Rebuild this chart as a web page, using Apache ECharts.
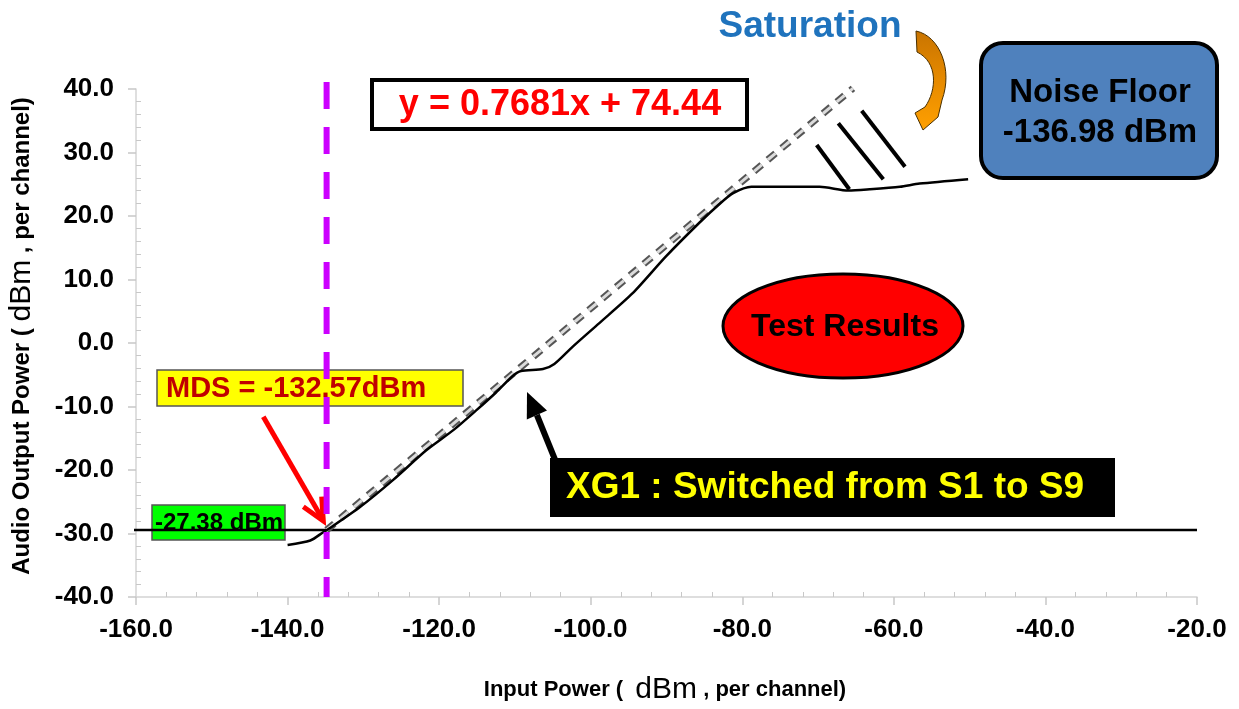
<!DOCTYPE html>
<html>
<head>
<meta charset="utf-8">
<script src="https://cdn.jsdelivr.net/npm/echarts@6/dist/echarts.min.js"></script>
<style>
  html, body { margin: 0; padding: 0; background: #fff; }
  #chart { width: 1239px; height: 709px; }
</style>
</head>
<body>
<div id="chart"></div>
<script>
// measured response (input dBm -> audio output dBm)
const inputPower = [-140.0, -137.0, -135.3, -134.6, -130.4, -126.1, -121.7, -118.0, -115.0, -112.5, -110.3, -109.2,
  -106.3, -104.8, -102.4, -98.9, -94.5, -90.1, -85.7, -83.0, -81.2, -78.8, -69.8, -66.0, -63.2, -59.2, -56.6, -50.2]
const outputPower = [-31.8, -31.1, -29.8, -29.3, -25.8, -21.6, -16.9, -13.6, -10.5, -7.8, -5.2, -4.4,
  -4.1, -3.3, -0.6, 3.1, 7.8, 13.6, 18.9, 21.9, 23.6, 24.6, 24.6, 24.0, 24.2, 24.6, 25.1, 25.8]

// linear fit drawn as a dashed line (end points)
const fitX = [-134.85, -65.4]
const fitY = [-29.45, 40.1]

// reference level and MDS marker
const floorX = [-161, -20]
const floorLevel = -29.45
const mdsX = -134.85
const mdsY = [41.1, -40]

const fmt1 = v => v.toFixed(1)
const zip = (xs, ys) => xs.map((x, i) => [x, ys[i]])

// sample a cubic bezier into points (for the curved arrow outline)
function bez (p0, p1, p2, p3, n) {
  const pts = []
  for (let i = 0; i <= n; i++) {
    const t = i / n
    const u = 1 - t
    pts.push([
      u * u * u * p0[0] + 3 * u * u * t * p1[0] + 3 * u * t * t * p2[0] + t * t * t * p3[0],
      u * u * u * p0[1] + 3 * u * u * t * p1[1] + 3 * u * t * t * p2[1] + t * t * t * p3[1]
    ])
  }
  return pts
}
const arrowPts = [].concat(
  bez([916, 31], [940, 36], [953, 70], [942, 100], 16),
  [[938, 117], [923, 130], [915, 113], [925, 107]],
  bez([925, 107], [937, 90], [938, 62], [917, 52], 16)
)

const chart = echarts.init(document.getElementById('chart'))

const fitData = zip(fitX, fitY)
const font = 'Liberation Sans, Arial'

const axisCommon = {
  type: 'value',
  axisLine: { show: true, onZero: false, lineStyle: { color: '#d4d4d4', width: 1.5 } },
  axisTick: { show: true, length: 8, lineStyle: { color: '#c8c8c8', width: 1.5 } },
  minorTick: { show: true, splitNumber: 5, length: -5, lineStyle: { color: '#c8c8c8', width: 1 } },
  splitLine: { show: false },
  minorSplitLine: { show: false }
}

chart.setOption({
  backgroundColor: '#fff',
  animation: false,
  grid: { left: 136, right: 42, top: 89, bottom: 112 },
  xAxis: Object.assign({}, axisCommon, {
    min: -160,
    max: -20,
    interval: 20,
    axisLabel: {
      margin: 20,
      formatter: fmt1,
      color: '#000',
      fontFamily: font,
      fontWeight: 'bold',
      fontSize: 26
    }
  }),
  yAxis: Object.assign({}, axisCommon, {
    min: -40,
    max: 40,
    interval: 10,
    axisLabel: {
      margin: 22,
      formatter: fmt1,
      color: '#000',
      fontFamily: font,
      fontWeight: 'bold',
      fontSize: 26
    }
  }),
  series: [
    {
      type: 'line',
      data: zip(floorX, floorX.map(() => floorLevel)),
      symbol: 'none',
      clip: false,
      lineStyle: { color: '#000', width: 2.5 },
      z: 2
    },
    {
      type: 'line',
      data: fitData,
      symbol: 'none',
      clip: false,
      lineStyle: { color: '#555', width: 7, type: [10, 8] },
      z: 3
    },
    {
      type: 'line',
      data: fitData,
      symbol: 'none',
      clip: false,
      lineStyle: { color: '#dcdcdc', width: 3, type: [10, 8] },
      z: 4
    },
    {
      type: 'line',
      data: zip(inputPower, outputPower),
      symbol: 'none',
      smooth: 0.25,
      lineStyle: { color: '#000', width: 2.5 },
      z: 5
    },
    {
      type: 'line',
      data: mdsY.map(y => [mdsX, y]),
      symbol: 'none',
      clip: false,
      lineStyle: { color: '#CC00FF', width: 6, type: [27, 18] },
      z: 6
    }
  ],
  graphic: [
    // axis titles
    {
      type: 'text',
      x: 665,
      y: 690,
      style: {
        text: '{a|Input Power (  }{b|dBm}{a| , per channel)}',
        align: 'center',
        verticalAlign: 'middle',
        rich: {
          a: { fontFamily: font, fontWeight: 'bold', fontSize: 22, fill: '#000' },
          b: { fontFamily: font, fontSize: 30, fill: '#000' }
        }
      }
    },
    {
      type: 'text',
      x: 22,
      y: 336,
      rotation: Math.PI / 2,
      style: {
        text: '{a|Audio Output Power ( }{b|dBm}{a| , per channel)}',
        align: 'center',
        verticalAlign: 'middle',
        rich: {
          a: { fontFamily: font, fontWeight: 'bold', fontSize: 24, fill: '#000' },
          b: { fontFamily: font, fontSize: 30, fill: '#000' }
        }
      }
    },
    // Saturation label and curved arrow
    {
      type: 'text',
      x: 810,
      y: 27,
      style: {
        text: 'Saturation',
        align: 'center',
        verticalAlign: 'middle',
        font: 'bold 37px ' + font,
        fill: '#1F73BD'
      }
    },
    {
      type: 'polygon',
      shape: { points: arrowPts },
      style: {
        fill: new echarts.graphic.LinearGradient(0, 0, 0, 1, [
          { offset: 0, color: '#C97400' },
          { offset: 0.5, color: '#E68A00' },
          { offset: 1, color: '#FFA000' }
        ]),
        stroke: '#4a3000',
        lineWidth: 1
      }
    },
    // saturation hatch lines
    { type: 'line', shape: { x1: 816.7, y1: 145, x2: 849.3, y2: 189.3 }, style: { stroke: '#000', lineWidth: 4 } },
    { type: 'line', shape: { x1: 838.3, y1: 123.3, x2: 883.3, y2: 179.3 }, style: { stroke: '#000', lineWidth: 4 } },
    { type: 'line', shape: { x1: 861.7, y1: 110.7, x2: 905, y2: 166.7 }, style: { stroke: '#000', lineWidth: 4 } },
    // equation box
    {
      type: 'rect',
      shape: { x: 372, y: 80, width: 375, height: 49 },
      style: { fill: '#fff', stroke: '#000', lineWidth: 4 }
    },
    {
      type: 'text',
      x: 560,
      y: 105,
      style: {
        text: 'y = 0.7681x + 74.44',
        align: 'center',
        verticalAlign: 'middle',
        font: 'bold 36px ' + font,
        fill: '#FF0000'
      }
    },
    // noise floor box
    {
      type: 'rect',
      shape: { x: 981, y: 43, width: 236, height: 135, r: 22 },
      style: { fill: '#4F81BD', stroke: '#000', lineWidth: 4 }
    },
    {
      type: 'text',
      x: 1100,
      y: 113,
      style: {
        text: 'Noise Floor\n-136.98 dBm',
        align: 'center',
        verticalAlign: 'middle',
        lineHeight: 40,
        font: 'bold 33px ' + font,
        fill: '#000'
      }
    },
    // test results ellipse
    {
      type: 'ellipse',
      shape: { cx: 843, cy: 326, rx: 120, ry: 52 },
      style: { fill: '#FF0000', stroke: '#000', lineWidth: 3 }
    },
    {
      type: 'text',
      x: 845,
      y: 327,
      style: {
        text: 'Test Results',
        align: 'center',
        verticalAlign: 'middle',
        font: 'bold 32px ' + font,
        fill: '#000'
      }
    },
    // MDS label + red arrow
    {
      type: 'rect',
      shape: { x: 157, y: 370, width: 306, height: 36 },
      style: { fill: '#FFFF00', stroke: '#555', lineWidth: 1.5 }
    },
    {
      type: 'text',
      x: 166,
      y: 389,
      style: {
        text: 'MDS = -132.57dBm',
        align: 'left',
        verticalAlign: 'middle',
        font: 'bold 29px ' + font,
        fill: '#C00000'
      }
    },
    { type: 'line', shape: { x1: 263.3, y1: 416.7, x2: 323, y2: 520 }, style: { stroke: '#FF0000', lineWidth: 5 } },
    {
      type: 'polyline',
      shape: { points: [[303.3, 506.7], [323.3, 521], [321.7, 496.7]] },
      style: { stroke: '#FF0000', lineWidth: 5, fill: null }
    },
    // level label
    {
      type: 'rect',
      shape: { x: 152, y: 505, width: 133, height: 35 },
      style: { fill: '#00FF00', stroke: '#555', lineWidth: 1.5 }
    },
    {
      type: 'text',
      x: 155,
      y: 523,
      style: {
        text: '-27.38 dBm',
        align: 'left',
        verticalAlign: 'middle',
        font: 'bold 24px ' + font,
        fill: '#000'
      }
    },
    // XG1 label + black arrow
    { type: 'line', shape: { x1: 556, y1: 462, x2: 536.9, y2: 415 }, style: { stroke: '#000', lineWidth: 6 } },
    {
      type: 'polygon',
      shape: { points: [[527, 392], [547, 410.6], [526.8, 419.4]] },
      style: { fill: '#000' }
    },
    {
      type: 'rect',
      shape: { x: 550, y: 458, width: 565, height: 59 },
      style: { fill: '#000' }
    },
    {
      type: 'text',
      x: 566,
      y: 488,
      style: {
        text: 'XG1 : Switched from S1 to S9',
        align: 'left',
        verticalAlign: 'middle',
        font: 'bold 37px ' + font,
        fill: '#FFFF00'
      }
    }
  ]
})
</script>
</body>
</html>
